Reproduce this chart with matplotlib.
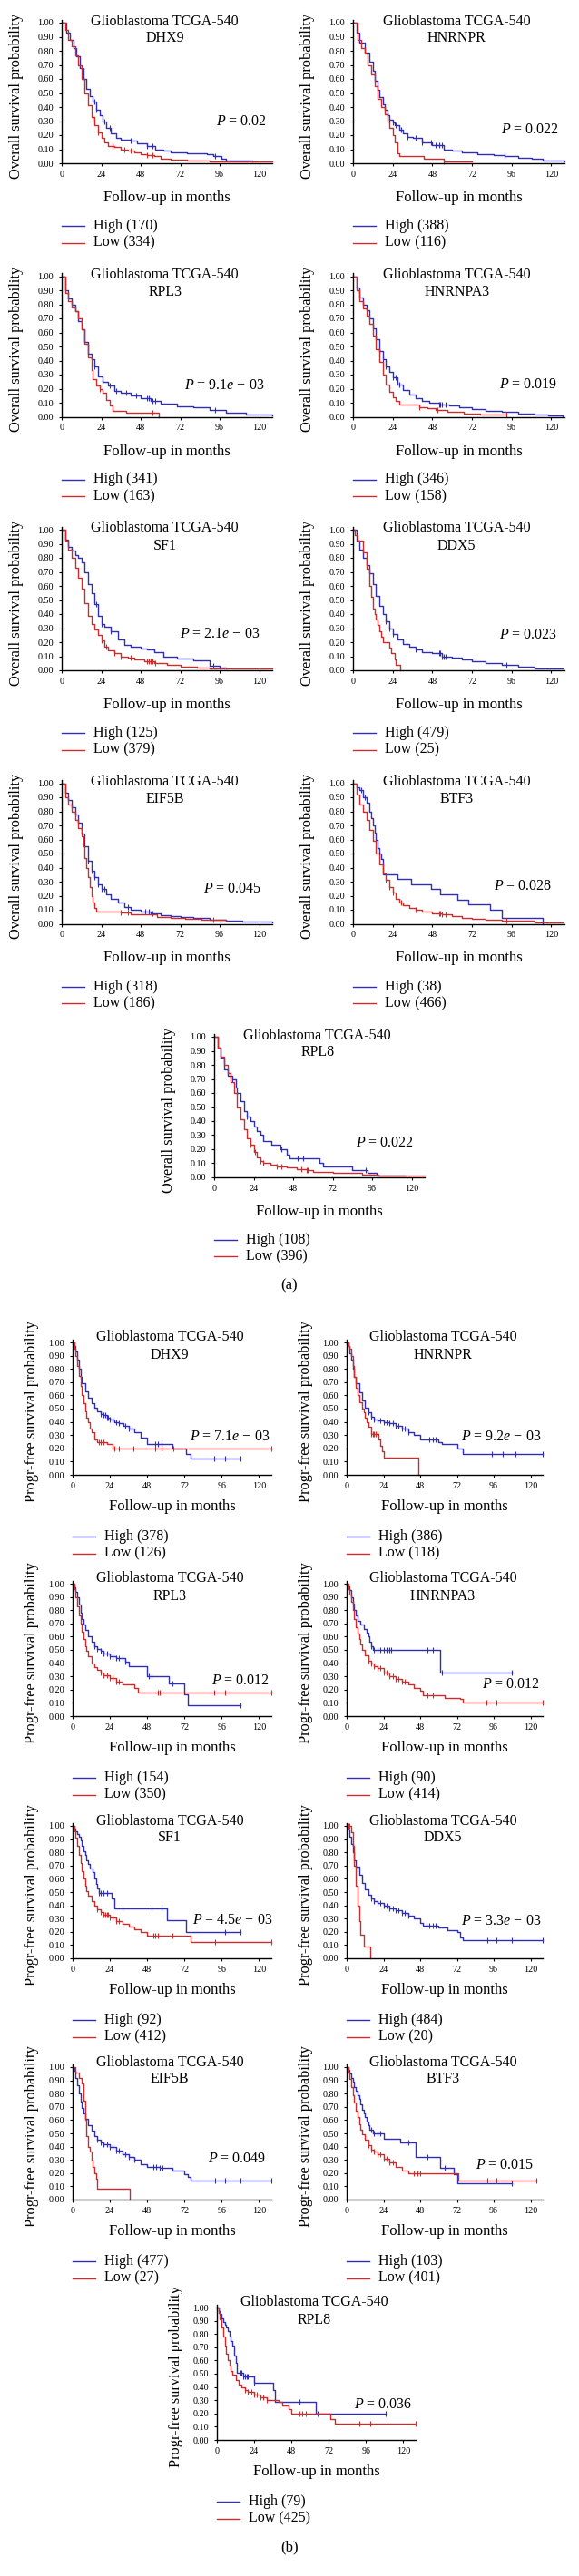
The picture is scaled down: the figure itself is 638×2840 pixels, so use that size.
import numpy as np
import matplotlib
matplotlib.use("Agg")
import matplotlib.pyplot as plt

plt.rcParams['font.family'] = ['Liberation Serif', 'DejaVu Serif']
plt.rcParams['mathtext.fontset'] = 'custom'
plt.rcParams['mathtext.rm'] = 'Liberation Serif'
plt.rcParams['mathtext.it'] = 'Liberation Serif:italic'

BLUE = '#2f2fb6'
RED = '#cc2c2c'

# ---------------- (a) overall survival ----------------
os_dhx9_hi_t = [0, 3, 5, 7, 9, 11, 13, 15, 17, 19, 21, 23, 25, 27, 30, 33, 36, 42, 46, 52, 57, 62, 66, 76, 88, 92, 97, 100, 116]
os_dhx9_hi_s = [1.0, 0.93, 0.88, 0.82, 0.76, 0.68, 0.60, 0.53, 0.48, 0.44, 0.38, 0.34, 0.30, 0.25, 0.21, 0.18, 0.17, 0.16, 0.14, 0.12, 0.10, 0.09, 0.08, 0.07, 0.065, 0.05, 0.03, 0.02, 0.01]
os_dhx9_hi_c = [20, 21, 26, 29, 42, 52, 55, 93]
os_dhx9_lo_t = [0, 2, 4, 6, 8, 10, 12, 14, 16, 18, 20, 22, 24, 26, 28, 32, 36, 40, 44, 48, 52, 56, 60, 66, 76, 90, 100, 128]
os_dhx9_lo_s = [1.0, 0.95, 0.88, 0.83, 0.77, 0.70, 0.60, 0.50, 0.41, 0.33, 0.27, 0.22, 0.18, 0.15, 0.12, 0.115, 0.10, 0.09, 0.08, 0.065, 0.06, 0.05, 0.035, 0.025, 0.02, 0.015, 0.01, 0.01]
os_dhx9_lo_c = [19, 22, 25, 31, 38, 42, 52, 55]

os_hnrnpr_hi_t = [0, 2, 4, 7, 10, 12, 13, 15, 16, 18, 19, 21, 22, 24, 25, 28, 30, 33, 36, 42, 48, 55, 60, 66, 75, 85, 92, 100, 108, 115, 128]
os_hnrnpr_hi_s = [1.0, 0.93, 0.86, 0.785, 0.72, 0.66, 0.59, 0.52, 0.47, 0.42, 0.38, 0.34, 0.31, 0.29, 0.27, 0.24, 0.21, 0.19, 0.18, 0.15, 0.13, 0.10, 0.09, 0.075, 0.065, 0.055, 0.05, 0.04, 0.03, 0.02, 0.01]
os_hnrnpr_hi_c = [22, 24, 26, 29, 33, 38, 42, 47, 50, 52, 54, 92]
os_hnrnpr_lo_t = [0, 3, 5, 7, 9, 11, 13, 15, 17, 19, 21, 22, 24, 25, 27, 28, 43, 55, 72]
os_hnrnpr_lo_s = [1.0, 0.88, 0.82, 0.78, 0.70, 0.63, 0.55, 0.46, 0.40, 0.35, 0.30, 0.25, 0.20, 0.15, 0.07, 0.05, 0.03, 0.01, 0.01]
os_hnrnpr_lo_c = [55]

os_rpl3_hi_t = [0, 2, 4, 6, 8, 10, 12, 14, 16, 18, 20, 22, 25, 28, 32, 36, 42, 48, 54, 60, 70, 80, 90, 100, 112, 128]
os_rpl3_hi_s = [1.0, 0.90, 0.84, 0.80, 0.75, 0.68, 0.62, 0.53, 0.45, 0.41, 0.36, 0.29, 0.25, 0.22, 0.185, 0.17, 0.15, 0.13, 0.11, 0.095, 0.075, 0.065, 0.05, 0.03, 0.015, 0.01]
os_rpl3_hi_c = [20, 25, 29, 33, 39, 45, 52, 53, 55, 57, 93]
os_rpl3_lo_t = [0, 2, 4, 6, 8, 10, 12, 14, 16, 18, 19, 21, 23, 25, 27, 29, 31, 39, 59]
os_rpl3_lo_s = [1.0, 0.88, 0.82, 0.78, 0.75, 0.70, 0.62, 0.52, 0.42, 0.33, 0.27, 0.22, 0.20, 0.17, 0.12, 0.08, 0.045, 0.03, 0.0]
os_rpl3_lo_c = [23, 25, 55]

os_hnrnpa3_hi_t = [0, 2, 4, 6, 8, 10, 12, 14, 16, 18, 20, 22, 24, 27, 30, 34, 38, 42, 46, 52, 58, 64, 72, 80, 90, 100, 110, 118, 127]
os_hnrnpa3_hi_s = [1.0, 0.92, 0.85, 0.80, 0.76, 0.70, 0.63, 0.55, 0.47, 0.41, 0.36, 0.32, 0.28, 0.23, 0.19, 0.16, 0.13, 0.11, 0.10, 0.09, 0.08, 0.065, 0.055, 0.045, 0.035, 0.025, 0.015, 0.01, 0.005]
os_hnrnpa3_hi_c = [16, 18, 20, 21, 24, 26, 28, 52, 53, 54, 56]
os_hnrnpa3_lo_t = [0, 2, 4, 6, 8, 10, 12, 14, 16, 18, 20, 22, 24, 26, 28, 34, 40, 45, 50, 57, 67, 77, 93]
os_hnrnpa3_lo_s = [1.0, 0.90, 0.82, 0.77, 0.72, 0.66, 0.58, 0.48, 0.39, 0.30, 0.23, 0.18, 0.14, 0.11, 0.09, 0.085, 0.07, 0.06, 0.05, 0.035, 0.025, 0.015, 0.015]
os_hnrnpa3_lo_c = [40, 51, 93]

os_sf1_hi_t = [0, 2, 4, 6, 8, 10, 12, 14, 16, 18, 20, 22, 24, 26, 30, 34, 38, 42, 48, 52, 56, 62, 70, 80, 90, 96, 100]
os_sf1_hi_s = [1.0, 0.93, 0.88, 0.85, 0.82, 0.80, 0.77, 0.70, 0.61, 0.55, 0.47, 0.39, 0.33, 0.31, 0.28, 0.22, 0.18, 0.165, 0.155, 0.15, 0.13, 0.10, 0.085, 0.07, 0.035, 0.02, 0.02]
os_sf1_hi_c = [21, 24, 30, 92]
os_sf1_lo_t = [0, 2, 4, 6, 8, 10, 12, 14, 16, 18, 20, 22, 24, 26, 28, 32, 36, 40, 44, 50, 56, 64, 72, 82, 90, 104, 128]
os_sf1_lo_s = [1.0, 0.92, 0.86, 0.80, 0.73, 0.66, 0.58, 0.48, 0.39, 0.33, 0.29, 0.25, 0.21, 0.17, 0.14, 0.12, 0.10, 0.09, 0.08, 0.065, 0.05, 0.04, 0.025, 0.02, 0.015, 0.01, 0.01]
os_sf1_lo_c = [24, 27, 32, 36, 42, 52, 53, 54, 55, 57]

os_ddx5_hi_t = [0, 2, 4, 6, 8, 10, 12, 14, 16, 18, 20, 22, 24, 27, 30, 34, 38, 42, 48, 54, 60, 66, 72, 80, 90, 100, 110, 118, 127]
os_ddx5_hi_s = [1.0, 0.92, 0.86, 0.80, 0.75, 0.69, 0.61, 0.53, 0.46, 0.40, 0.35, 0.30, 0.26, 0.22, 0.19, 0.165, 0.15, 0.13, 0.12, 0.10, 0.09, 0.075, 0.065, 0.05, 0.04, 0.025, 0.015, 0.01, 0.01]
os_ddx5_hi_c = [20, 22, 24, 38, 52, 53, 54, 55, 56, 93]
os_ddx5_lo_t = [0, 1, 3, 6, 8, 10, 11, 12, 13, 14, 15, 16, 17, 18, 22, 23, 25, 26, 28.5]
os_ddx5_lo_s = [1.0, 0.96, 0.92, 0.84, 0.72, 0.60, 0.52, 0.44, 0.40, 0.36, 0.32, 0.28, 0.24, 0.20, 0.16, 0.12, 0.08, 0.04, 0.0]
os_ddx5_lo_c = []

os_eif5b_hi_t = [0, 2, 4, 6, 8, 10, 12, 14, 16, 18, 20, 22, 24, 27, 30, 34, 38, 42, 48, 54, 60, 66, 72, 80, 90, 100, 110, 128]
os_eif5b_hi_s = [1.0, 0.93, 0.88, 0.83, 0.78, 0.72, 0.64, 0.55, 0.45, 0.38, 0.33, 0.28, 0.25, 0.21, 0.18, 0.15, 0.12, 0.10, 0.085, 0.075, 0.06, 0.055, 0.05, 0.04, 0.03, 0.02, 0.015, 0.01]
os_eif5b_hi_c = [16, 18, 20, 22, 24, 26, 40, 51, 53, 55]
os_eif5b_lo_t = [0, 2, 4, 6, 8, 10, 12, 13, 14, 15, 16, 17, 18, 19, 20, 21, 36, 42, 50, 58, 66, 75, 85, 100]
os_eif5b_lo_s = [1.0, 0.90, 0.85, 0.80, 0.74, 0.68, 0.62, 0.55, 0.47, 0.40, 0.33, 0.26, 0.20, 0.15, 0.11, 0.09, 0.08, 0.07, 0.065, 0.05, 0.04, 0.035, 0.03, 0.02]
os_eif5b_lo_c = [36, 40, 92]

os_btf3_hi_t = [0, 2, 4, 6, 8, 10, 11, 12, 13, 14, 15, 16, 17, 18, 27, 35, 47, 53, 63, 70, 83, 90, 115]
os_btf3_hi_s = [1.0, 0.97, 0.95, 0.90, 0.86, 0.80, 0.75, 0.70, 0.65, 0.60, 0.54, 0.50, 0.46, 0.35, 0.32, 0.28, 0.25, 0.21, 0.17, 0.14, 0.10, 0.04, 0.0]
os_btf3_hi_c = [5, 7]
os_btf3_lo_t = [0, 2, 4, 6, 8, 10, 12, 14, 16, 18, 20, 22, 24, 26, 28, 30, 34, 38, 42, 48, 54, 60, 66, 72, 80, 90, 100, 110, 127]
os_btf3_lo_s = [1.0, 0.92, 0.85, 0.80, 0.74, 0.67, 0.59, 0.50, 0.42, 0.36, 0.31, 0.26, 0.22, 0.18, 0.15, 0.13, 0.11, 0.10, 0.09, 0.075, 0.065, 0.055, 0.045, 0.035, 0.03, 0.025, 0.02, 0.01, 0.01]
os_btf3_lo_c = [20, 22, 24, 29, 38, 52, 53, 54, 56, 93]

os_rpl8_hi_t = [0, 2, 4, 6, 8, 11, 13, 14, 16, 18, 20, 22, 24, 26, 28, 30, 35, 40, 44, 46, 64, 66, 84, 93, 99, 116]
os_rpl8_hi_s = [1.0, 0.92, 0.85, 0.77, 0.72, 0.70, 0.64, 0.60, 0.54, 0.47, 0.43, 0.40, 0.36, 0.33, 0.30, 0.26, 0.23, 0.20, 0.16, 0.135, 0.10, 0.08, 0.05, 0.03, 0.015, 0.015]
os_rpl8_hi_c = [11, 20, 41, 51, 54, 92]
os_rpl8_lo_t = [0, 2, 4, 6, 8, 10, 12, 14, 16, 18, 20, 22, 24, 26, 28, 30, 34, 38, 44, 50, 56, 60, 72, 80, 90, 100, 128]
os_rpl8_lo_s = [1.0, 0.92, 0.86, 0.80, 0.74, 0.68, 0.60, 0.50, 0.41, 0.34, 0.28, 0.23, 0.18, 0.14, 0.115, 0.10, 0.09, 0.08, 0.07, 0.06, 0.05, 0.04, 0.035, 0.03, 0.02, 0.01, 0.01]
os_rpl8_lo_c = [22, 25, 28, 30, 38, 41, 53, 56, 57]

# ---------------- (b) progression-free survival ----------------
pf_dhx9_hi_t = [0, 1, 2, 3, 4, 5, 6, 8, 10, 12, 14, 16, 18, 20, 22, 24, 27, 30, 33, 36, 40, 44, 48, 64, 73, 76, 108]
pf_dhx9_hi_s = [1.0, 0.97, 0.93, 0.87, 0.80, 0.74, 0.69, 0.63, 0.58, 0.54, 0.51, 0.48, 0.46, 0.45, 0.43, 0.42, 0.40, 0.39, 0.37, 0.35, 0.32, 0.28, 0.23, 0.20, 0.16, 0.12, 0.12]
pf_dhx9_hi_c = [18, 19, 20, 21, 22, 23, 24, 26, 28, 30, 32, 34, 36, 38, 53, 55, 57, 91, 98, 108]
pf_dhx9_lo_t = [0, 1, 2, 3, 4, 5, 6, 7, 8, 9, 10, 11, 12, 14, 16, 22, 26, 128]
pf_dhx9_lo_s = [1.0, 0.95, 0.90, 0.82, 0.75, 0.67, 0.60, 0.54, 0.48, 0.43, 0.40, 0.35, 0.32, 0.27, 0.25, 0.23, 0.20, 0.20]
pf_dhx9_lo_c = [17, 18, 20, 27, 30, 39, 53, 57, 65, 128]

pf_hnrnpr_hi_t = [0, 1, 2, 3, 4, 5, 6, 8, 10, 12, 14, 16, 18, 20, 24, 28, 32, 36, 40, 44, 48, 58, 60, 62, 72, 76, 128]
pf_hnrnpr_hi_s = [1.0, 0.97, 0.92, 0.87, 0.80, 0.74, 0.69, 0.62, 0.56, 0.51, 0.47, 0.44, 0.42, 0.41, 0.40, 0.39, 0.37, 0.35, 0.32, 0.30, 0.27, 0.27, 0.25, 0.23, 0.20, 0.16, 0.16]
pf_hnrnpr_hi_c = [14, 16, 18, 20, 22, 24, 26, 28, 30, 32, 34, 36, 38, 40, 54, 56, 58, 95, 102, 110, 128]
pf_hnrnpr_lo_t = [0, 1, 2, 3, 4, 5, 6, 7, 8, 10, 11, 12, 13, 14, 16, 21, 22, 23, 24, 47]
pf_hnrnpr_lo_s = [1.0, 0.97, 0.95, 0.90, 0.82, 0.74, 0.66, 0.60, 0.55, 0.50, 0.47, 0.43, 0.40, 0.36, 0.31, 0.27, 0.22, 0.18, 0.13, 0.0]
pf_hnrnpr_lo_c = [16, 17, 18, 19, 20]

pf_rpl3_hi_t = [0, 1, 2, 3, 4, 5, 6, 7, 8, 10, 12, 14, 16, 18, 20, 24, 28, 34, 36, 48, 62, 72, 74, 108]
pf_rpl3_hi_s = [1.0, 0.97, 0.94, 0.90, 0.84, 0.78, 0.73, 0.69, 0.65, 0.60, 0.56, 0.53, 0.51, 0.49, 0.47, 0.45, 0.44, 0.41, 0.38, 0.30, 0.245, 0.165, 0.08, 0.08]
pf_rpl3_hi_c = [14, 16, 18, 20, 22, 24, 26, 28, 30, 32, 34, 49, 51, 64, 108]
pf_rpl3_lo_t = [0, 1, 2, 3, 4, 5, 6, 7, 8, 9, 10, 12, 14, 16, 18, 20, 24, 28, 32, 40, 42, 128]
pf_rpl3_lo_s = [1.0, 0.96, 0.90, 0.83, 0.76, 0.70, 0.64, 0.58, 0.53, 0.49, 0.45, 0.40, 0.37, 0.35, 0.33, 0.31, 0.29, 0.26, 0.24, 0.21, 0.18, 0.18]
pf_rpl3_lo_c = [18, 20, 22, 24, 26, 28, 30, 38, 55, 56, 91, 98, 128]

pf_hnrnpa3_hi_t = [0, 1, 2, 3, 4, 5, 6, 7, 9, 11, 13, 14, 15, 16, 17, 61, 108]
pf_hnrnpa3_hi_s = [1.0, 0.98, 0.95, 0.90, 0.85, 0.80, 0.76, 0.72, 0.69, 0.66, 0.63, 0.60, 0.56, 0.53, 0.50, 0.33, 0.33]
pf_hnrnpa3_hi_c = [16, 18, 20, 22, 24, 26, 28, 29, 53, 56, 62, 108]
pf_hnrnpa3_lo_t = [0, 1, 2, 3, 4, 5, 6, 7, 8, 9, 10, 12, 14, 16, 18, 20, 24, 28, 32, 36, 40, 44, 48, 50, 64, 74, 76, 128]
pf_hnrnpa3_lo_s = [1.0, 0.96, 0.92, 0.86, 0.80, 0.73, 0.67, 0.62, 0.58, 0.54, 0.50, 0.46, 0.42, 0.40, 0.38, 0.36, 0.33, 0.30, 0.28, 0.26, 0.24, 0.21, 0.19, 0.16, 0.14, 0.13, 0.10, 0.10]
pf_hnrnpa3_lo_c = [14, 16, 18, 20, 22, 24, 26, 28, 30, 32, 34, 36, 38, 53, 56, 91, 98, 128]

pf_sf1_hi_t = [0, 1, 2, 3, 4, 5, 6, 7, 8, 9, 10, 11, 13, 14, 15, 16, 17, 25, 27, 61, 73, 108]
pf_sf1_hi_s = [1.0, 0.98, 0.96, 0.94, 0.92, 0.89, 0.85, 0.81, 0.78, 0.74, 0.71, 0.68, 0.65, 0.60, 0.56, 0.53, 0.49, 0.45, 0.38, 0.29, 0.20, 0.20]
pf_sf1_hi_c = [17, 18, 20, 22, 32, 51, 57, 98, 108]
pf_sf1_lo_t = [0, 1, 2, 3, 4, 5, 6, 7, 8, 9, 10, 12, 14, 16, 18, 20, 24, 28, 32, 36, 40, 44, 48, 74, 76, 128]
pf_sf1_lo_s = [1.0, 0.96, 0.91, 0.85, 0.78, 0.72, 0.66, 0.60, 0.55, 0.51, 0.47, 0.43, 0.40, 0.37, 0.35, 0.33, 0.31, 0.28, 0.26, 0.24, 0.22, 0.20, 0.17, 0.17, 0.12, 0.12]
pf_sf1_lo_c = [16, 18, 20, 21, 22, 23, 24, 26, 28, 30, 52, 53, 55, 64, 92, 128]

pf_ddx5_hi_t = [0, 1, 2, 3, 4, 5, 6, 8, 10, 12, 14, 16, 18, 20, 24, 28, 32, 36, 40, 44, 48, 50, 60, 66, 72, 74, 76, 128]
pf_ddx5_hi_s = [1.0, 0.97, 0.92, 0.86, 0.80, 0.74, 0.69, 0.63, 0.57, 0.52, 0.48, 0.45, 0.43, 0.42, 0.40, 0.38, 0.36, 0.34, 0.32, 0.30, 0.27, 0.25, 0.23, 0.21, 0.20, 0.16, 0.14, 0.14]
pf_ddx5_hi_c = [16, 18, 20, 22, 24, 26, 28, 30, 32, 34, 36, 38, 40, 52, 54, 56, 58, 92, 98, 108, 128]
pf_ddx5_lo_t = [0, 3, 4, 5, 6, 7, 8, 9, 11.5, 15.7]
pf_ddx5_lo_s = [1.0, 0.95, 0.85, 0.70, 0.55, 0.40, 0.28, 0.18, 0.09, 0.0]
pf_ddx5_lo_c = [1, 2]

pf_eif5b_hi_t = [0, 1, 2, 3, 4, 5, 6, 7, 8, 10, 12, 14, 16, 18, 20, 24, 28, 32, 36, 40, 44, 48, 56, 64, 72, 74, 76, 128]
pf_eif5b_hi_s = [1.0, 0.97, 0.92, 0.86, 0.80, 0.74, 0.69, 0.65, 0.61, 0.56, 0.52, 0.48, 0.45, 0.43, 0.42, 0.40, 0.37, 0.34, 0.32, 0.30, 0.27, 0.25, 0.24, 0.22, 0.19, 0.17, 0.145, 0.145]
pf_eif5b_hi_c = [16, 18, 20, 22, 24, 26, 28, 30, 32, 34, 36, 38, 40, 52, 54, 56, 58, 92, 98, 108, 128]
pf_eif5b_lo_t = [0, 2, 4, 6, 7, 8, 9, 10, 11, 12, 13, 14, 15, 16, 37]
pf_eif5b_lo_s = [1.0, 0.96, 0.92, 0.88, 0.75, 0.60, 0.48, 0.40, 0.36, 0.30, 0.25, 0.20, 0.16, 0.08, 0.0]
pf_eif5b_lo_c = []

pf_btf3_hi_t = [0, 1, 2, 3, 4, 5, 6, 7, 8, 9, 10, 11, 12, 13, 14, 15, 17, 24, 35, 45, 61, 70, 72, 108]
pf_btf3_hi_s = [1.0, 0.98, 0.95, 0.92, 0.89, 0.85, 0.82, 0.79, 0.76, 0.72, 0.68, 0.65, 0.62, 0.59, 0.56, 0.53, 0.50, 0.46, 0.43, 0.32, 0.24, 0.19, 0.12, 0.12]
pf_btf3_hi_c = [16, 18, 20, 22, 40, 53, 64, 108]
pf_btf3_lo_t = [0, 1, 2, 3, 4, 5, 6, 7, 8, 9, 10, 12, 14, 16, 18, 20, 24, 28, 32, 36, 40, 73, 124]
pf_btf3_lo_s = [1.0, 0.96, 0.91, 0.85, 0.79, 0.73, 0.67, 0.62, 0.57, 0.53, 0.49, 0.45, 0.41, 0.38, 0.36, 0.34, 0.31, 0.28, 0.25, 0.22, 0.20, 0.145, 0.145]
pf_btf3_lo_c = [14, 16, 18, 20, 22, 24, 26, 28, 30, 44, 46, 48, 92, 98, 124]

pf_rpl8_hi_t = [0, 1, 2, 3, 4, 5, 6, 7, 8, 9, 10, 11, 12, 13, 17, 24, 36, 37.5, 63.5, 109]
pf_rpl8_hi_s = [1.0, 0.97, 0.95, 0.92, 0.89, 0.87, 0.85, 0.82, 0.79, 0.75, 0.71, 0.64, 0.58, 0.51, 0.48, 0.43, 0.38, 0.29, 0.20, 0.20]
pf_rpl8_hi_c = [15, 16, 17, 18, 19, 20, 24, 53, 65, 109]
pf_rpl8_lo_t = [0, 1, 2, 3, 4, 5, 6, 7, 8, 9, 10, 12, 14, 16, 18, 20, 24, 28, 32, 40, 42, 46, 48, 73, 76, 128]
pf_rpl8_lo_s = [1.0, 0.96, 0.91, 0.85, 0.78, 0.71, 0.65, 0.60, 0.56, 0.52, 0.49, 0.45, 0.42, 0.40, 0.38, 0.36, 0.34, 0.32, 0.30, 0.29, 0.26, 0.23, 0.20, 0.16, 0.12, 0.12]
pf_rpl8_lo_c = [18, 20, 22, 24, 26, 28, 30, 32, 34, 53, 55, 57, 92, 99, 128]

genes = ['DHX9', 'HNRNPR', 'RPL3', 'HNRNPA3', 'SF1', 'DDX5', 'EIF5B', 'BTF3', 'RPL8']
os_n_high = [170, 388, 341, 346, 125, 479, 318, 38, 108]
os_n_low = [334, 116, 163, 158, 379, 25, 186, 466, 396]
pf_n_high = [378, 386, 154, 90, 92, 484, 477, 103, 79]
pf_n_low = [126, 118, 350, 414, 412, 20, 27, 401, 425]
os_pvals = ['0.02', '0.022', '9.1$e$ \u2212 03', '0.019', '2.1$e$ \u2212 03', '0.023', '0.045', '0.028', '0.022']
pf_pvals = ['7.1$e$ \u2212 03', '9.2$e$ \u2212 03', '0.012', '0.012', '4.5$e$ \u2212 03', '3.3$e$ \u2212 03', '0.049', '0.015', '0.036']
os_p_pos = [(109, 0.30), (107, 0.24), (99, 0.22), (106, 0.23), (96, 0.26), (106, 0.25), (104, 0.25), (103, 0.27), (104, 0.245)]
pf_p_pos = [(101, 0.29), (101, 0.29), (108, 0.27), (107, 0.24), (103, 0.29), (101, 0.28), (106, 0.31), (103, 0.26), (107, 0.27)]

W, H = 638, 2840
fig = plt.figure(figsize=(W / 100, H / 100), dpi=100)


def censored_y(t, s, c):
    idx = np.searchsorted(np.array(t), np.array(c, dtype=float), side='right') - 1
    return np.array(s)[idx]


def panel(box, gene, ylabel, hi, lo, n_hi, n_lo, ptxt, ppos, title_y, xlab_dy, leg_dy, ylab_dx):
    l, t, r, b = box
    w, h = r - l, b - t
    ax = fig.add_axes([l / W, 1 - b / H, w / W, h / H])
    ax.set_xlim(0, 128)
    ax.set_ylim(0, 1.0)
    for sp in ['top', 'right']:
        ax.spines[sp].set_visible(False)
    for sp in ['left', 'bottom']:
        ax.spines[sp].set_linewidth(1.0)
    ax.spines['left'].set_bounds(0, 1.02)
    ax.set_xticks([0, 24, 48, 72, 96, 120])
    yt = np.round(np.arange(0, 1.01, 0.1), 2)
    ax.set_yticks(yt)
    ax.set_yticklabels(['%.2f' % v for v in yt])
    ax.tick_params(length=2.5, width=0.8, labelsize=7.3, pad=3)
    ax.tick_params(axis='y', pad=4)
    ax.patch.set_alpha(0)

    for (tt, ss, cc), col in [(hi, BLUE), (lo, RED)]:
        ax.plot(tt, ss, drawstyle='steps-post', color=col, lw=1.0, clip_on=False)
        if len(cc):
            ax.plot(cc, censored_y(tt, ss, cc), ls='none', marker='|', ms=5,
                    mew=0.8, color=col, clip_on=False)

    ax.text(0.49, title_y, 'Glioblastoma TCGA-540\n' + gene, transform=ax.transAxes,
            ha='center', va='center', fontsize=11.5, linespacing=1.25)
    ax.text(ppos[0], ppos[1], '$P$ = ' + ptxt, ha='center', va='center', fontsize=11.5)
    ax.text(-ylab_dx / w, 0.48, ylabel, transform=ax.transAxes, rotation=90,
            ha='center', va='center', fontsize=11.8)
    ax.text(0.5, -xlab_dy / h, 'Follow-up in months', transform=ax.transAxes,
            ha='center', va='center', fontsize=12)
    for k, (col, lab) in enumerate([(BLUE, 'High (%d)' % n_hi), (RED, 'Low (%d)' % n_lo)]):
        yy = -(leg_dy + 18.5 * k) / h
        ax.plot([0, 25 / w], [yy, yy], color=col, lw=1.0, transform=ax.transAxes, clip_on=False)
        ax.text(35 / w, yy, lab, transform=ax.transAxes, ha='left', va='center', fontsize=11.5)
    return ax


os_curves = [
    ((os_dhx9_hi_t, os_dhx9_hi_s, os_dhx9_hi_c), (os_dhx9_lo_t, os_dhx9_lo_s, os_dhx9_lo_c)),
    ((os_hnrnpr_hi_t, os_hnrnpr_hi_s, os_hnrnpr_hi_c), (os_hnrnpr_lo_t, os_hnrnpr_lo_s, os_hnrnpr_lo_c)),
    ((os_rpl3_hi_t, os_rpl3_hi_s, os_rpl3_hi_c), (os_rpl3_lo_t, os_rpl3_lo_s, os_rpl3_lo_c)),
    ((os_hnrnpa3_hi_t, os_hnrnpa3_hi_s, os_hnrnpa3_hi_c), (os_hnrnpa3_lo_t, os_hnrnpa3_lo_s, os_hnrnpa3_lo_c)),
    ((os_sf1_hi_t, os_sf1_hi_s, os_sf1_hi_c), (os_sf1_lo_t, os_sf1_lo_s, os_sf1_lo_c)),
    ((os_ddx5_hi_t, os_ddx5_hi_s, os_ddx5_hi_c), (os_ddx5_lo_t, os_ddx5_lo_s, os_ddx5_lo_c)),
    ((os_eif5b_hi_t, os_eif5b_hi_s, os_eif5b_hi_c), (os_eif5b_lo_t, os_eif5b_lo_s, os_eif5b_lo_c)),
    ((os_btf3_hi_t, os_btf3_hi_s, os_btf3_hi_c), (os_btf3_lo_t, os_btf3_lo_s, os_btf3_lo_c)),
    ((os_rpl8_hi_t, os_rpl8_hi_s, os_rpl8_hi_c), (os_rpl8_lo_t, os_rpl8_lo_s, os_rpl8_lo_c)),
]
pf_curves = [
    ((pf_dhx9_hi_t, pf_dhx9_hi_s, pf_dhx9_hi_c), (pf_dhx9_lo_t, pf_dhx9_lo_s, pf_dhx9_lo_c)),
    ((pf_hnrnpr_hi_t, pf_hnrnpr_hi_s, pf_hnrnpr_hi_c), (pf_hnrnpr_lo_t, pf_hnrnpr_lo_s, pf_hnrnpr_lo_c)),
    ((pf_rpl3_hi_t, pf_rpl3_hi_s, pf_rpl3_hi_c), (pf_rpl3_lo_t, pf_rpl3_lo_s, pf_rpl3_lo_c)),
    ((pf_hnrnpa3_hi_t, pf_hnrnpa3_hi_s, pf_hnrnpa3_hi_c), (pf_hnrnpa3_lo_t, pf_hnrnpa3_lo_s, pf_hnrnpa3_lo_c)),
    ((pf_sf1_hi_t, pf_sf1_hi_s, pf_sf1_hi_c), (pf_sf1_lo_t, pf_sf1_lo_s, pf_sf1_lo_c)),
    ((pf_ddx5_hi_t, pf_ddx5_hi_s, pf_ddx5_hi_c), (pf_ddx5_lo_t, pf_ddx5_lo_s, pf_ddx5_lo_c)),
    ((pf_eif5b_hi_t, pf_eif5b_hi_s, pf_eif5b_hi_c), (pf_eif5b_lo_t, pf_eif5b_lo_s, pf_eif5b_lo_c)),
    ((pf_btf3_hi_t, pf_btf3_hi_s, pf_btf3_hi_c), (pf_btf3_lo_t, pf_btf3_lo_s, pf_btf3_lo_c)),
    ((pf_rpl8_hi_t, pf_rpl8_hi_s, pf_rpl8_hi_c), (pf_rpl8_lo_t, pf_rpl8_lo_s, pf_rpl8_lo_c)),
]

# panel boxes in pixels (left, top, right, bottom)
os_cols = [(68, 300), (389, 622)]
os_rows = [25, 304.5, 584, 863.5]
os_boxes = []
for rt in os_rows:
    for cl, cr in os_cols:
        os_boxes.append((cl, rt, cr, rt + 155))
os_boxes.append((236, 1143, 468, 1298))

pf_cols = [(80, 299), (382, 598)]
pf_rows = [1480, 1746, 2013, 2279]
pf_boxes = []
for rt in pf_rows:
    for cl, cr in pf_cols:
        pf_boxes.append((cl, rt, cr, rt + 146))
pf_boxes.append((239, 2544, 458, 2690))

for i, g in enumerate(genes):
    panel(os_boxes[i], g, 'Overall survival probability', os_curves[i][0], os_curves[i][1],
          os_n_high[i], os_n_low[i], os_pvals[i], os_p_pos[i],
          title_y=1 - 8 / 155, xlab_dy=38, leg_dy=69, ylab_dx=50)
    panel(pf_boxes[i], g, 'Progr-free survival probability', pf_curves[i][0], pf_curves[i][1],
          pf_n_high[i], pf_n_low[i], pf_pvals[i], pf_p_pos[i],
          title_y=1 - 4 / 146, xlab_dy=35, leg_dy=68, ylab_dx=45)

fig.text(319 / W, 1 - 1417 / H, '(a)', ha='center', va='center', fontsize=12)
fig.text(319 / W, 1 - 2808 / H, '(b)', ha='center', va='center', fontsize=12)

fig.savefig('out.png', dpi=100, facecolor='white')
